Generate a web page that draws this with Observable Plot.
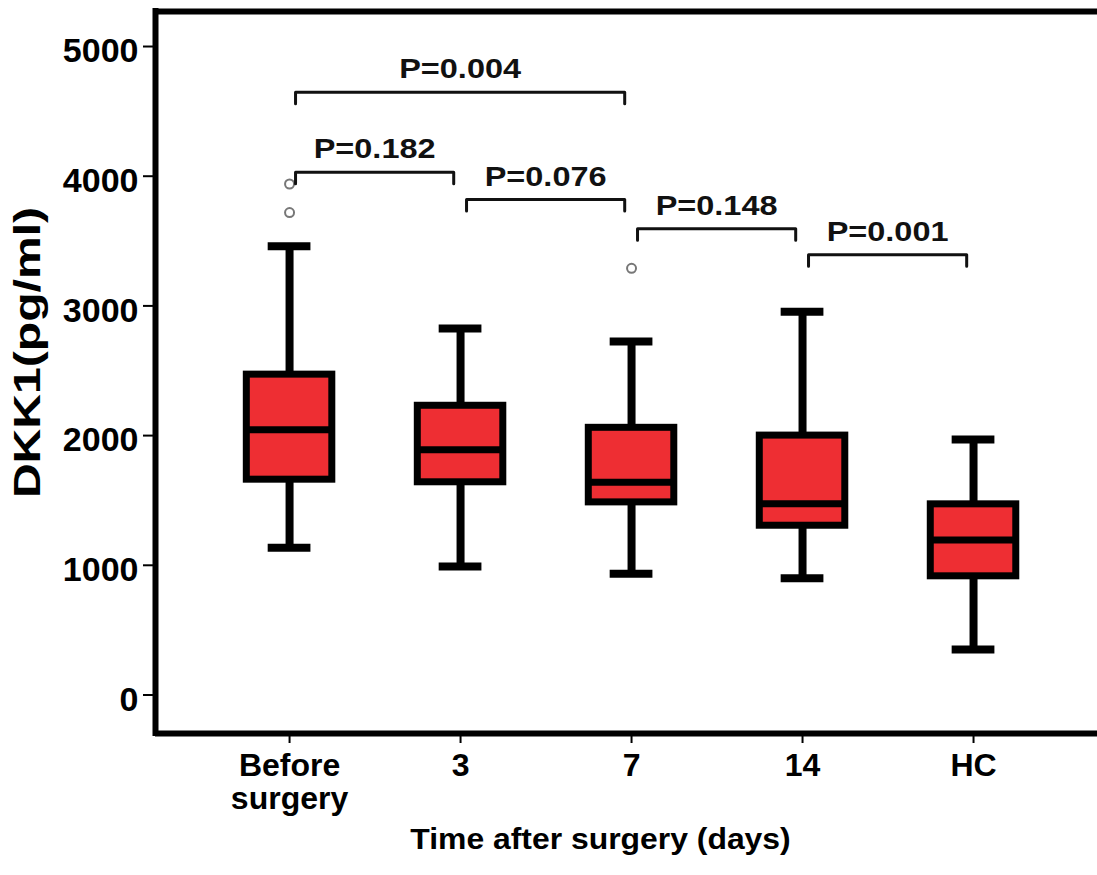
<!DOCTYPE html>
<html>
<head>
<meta charset="utf-8">
<script src="https://cdn.jsdelivr.net/npm/d3@7"></script>
<script src="https://cdn.jsdelivr.net/npm/@observablehq/plot@0.6"></script>
<style>
  html, body { margin: 0; padding: 0; background: white; }
</style>
</head>
<body>
<div id="chart"></div>
<script>
// ---- data ----
const groups = ["Before\nsurgery", "3", "7", "14", "HC"];
const lowWhisker  = [1135,  990,  935,  900,  350];
const q1          = [1660, 1640, 1485, 1305,  915];
const median      = [2045, 1890, 1640, 1475, 1195];
const q3          = [2470, 2230, 2060, 2000, 1470];
const highWhisker = [3460, 2825, 2725, 2955, 1970];

const outlierGroup = [0, 0, 2];
const outlierValue = [3940, 3720, 3290];

const compFrom  = [0, 0, 1, 2, 3];
const compTo    = [2, 1, 2, 3, 4];
const compLabel = ["P=0.004", "P=0.182", "P=0.076", "P=0.148", "P=0.001"];
const compY     = [4648, 4031, 3820, 3595, 3395];

const yTicks = [0, 1000, 2000, 3000, 4000, 5000];
const yTitle = "DKK1(pg/ml)";
const xTitle = "Time after surgery (days)";

// ---- derived tables ----
const boxes = groups.map((g, i) => ({
  i, lo: lowWhisker[i], q1: q1[i], med: median[i], q3: q3[i], hi: highWhisker[i]
}));
const outliers = outlierGroup.map((g, k) => ({i: g, v: outlierValue[k]}));

const yDomain = [-297, 5270];
const pxPerUnit = 722 / (yDomain[1] - yDomain[0]);
const drop = 11.5 / pxPerUnit;         // bracket end tick length
const startInset = 0.035, endInset = 0.04;
const boxHalf = 0.25, capHalf = 0.125;

const bracketPts = [];
const bracketText = [];
compFrom.forEach((a, k) => {
  const b = compTo[k], y = compY[k];
  const xa = a + startInset, xb = b - endInset;
  bracketPts.push({k, x: xa, y: y - drop}, {k, x: xa, y}, {k, x: xb, y}, {k, x: xb, y: y - drop});
  bracketText.push({x: (xa + xb) / 2, y, label: compLabel[k]});
});

const red = "#ee2e33";

const chart = Plot.plot({
  width: 1097,
  height: 875,
  marginLeft: 155,
  marginRight: 0,
  marginTop: 11,
  marginBottom: 142,
  style: {fontFamily: "'Liberation Sans', Arial, Helvetica, sans-serif", background: "white", color: "black"},
  x: {type: "linear", domain: [-0.784, 4.725]},
  y: {domain: yDomain},
  marks: [
    // y axis ticks and labels
    Plot.axisY({ticks: yTicks, tickSize: 12, strokeWidth: 2, tickFormat: () => "", label: null}),
    Plot.axisY({ticks: yTicks, tickSize: 0, tickPadding: 17, dy: 5, fontSize: 34, fontWeight: "bold", tickFormat: d => String(d), label: null}),
    // x axis ticks and labels
    Plot.axisX({ticks: [0, 1, 2, 3, 4], tickSize: 10, strokeWidth: 2, tickPadding: 9,
      tickFormat: i => groups[i], fontSize: 32, fontWeight: "bold", lineHeight: 1.03, label: null}),
    // frame: left, top, bottom
    Plot.ruleY([yDomain[0], yDomain[1]], {stroke: "black", strokeWidth: 6}),
    Plot.ruleX([-0.784], {stroke: "black", strokeWidth: 6, strokeLinecap: "square"}),
    // whiskers
    Plot.ruleX(boxes, {x: "i", y1: "lo", y2: "q1", stroke: "black", strokeWidth: 8}),
    Plot.ruleX(boxes, {x: "i", y1: "q3", y2: "hi", stroke: "black", strokeWidth: 8}),
    // caps
    Plot.ruleY(boxes, {y: "lo", x1: d => d.i - capHalf, x2: d => d.i + capHalf, stroke: "black", strokeWidth: 8}),
    Plot.ruleY(boxes, {y: "hi", x1: d => d.i - capHalf, x2: d => d.i + capHalf, stroke: "black", strokeWidth: 8}),
    // boxes
    Plot.rect(boxes, {x1: d => d.i - boxHalf, x2: d => d.i + boxHalf, y1: "q1", y2: "q3",
      fill: red, stroke: "black", strokeWidth: 7}),
    // medians
    Plot.ruleY(boxes, {y: "med", x1: d => d.i - boxHalf, x2: d => d.i + boxHalf, stroke: "black", strokeWidth: 7}),
    // outliers
    Plot.dot(outliers, {x: "i", y: "v", r: 4.5, stroke: "#777", strokeWidth: 2, fill: "white"}),
    // significance brackets
    Plot.line(bracketPts, {x: "x", y: "y", z: "k", stroke: "#111", strokeWidth: 3, strokeLinejoin: "round", curve: "linear"}),
    Plot.text(bracketText, {x: "x", y: "y", text: "label", dy: -14, lineAnchor: "bottom", textAnchor: "middle",
      fontSize: 28, fontWeight: "bold", fill: "#111"}),
    // axis titles
    Plot.text([yTitle], {frameAnchor: "left", rotate: -90, dx: -116, dy: -20, lineAnchor: "bottom", textAnchor: "middle",
      fontSize: 37, fontWeight: "bold"}),
    Plot.text([xTitle], {frameAnchor: "bottom", dx: -26, dy: 115, lineAnchor: "bottom", textAnchor: "middle",
      fontSize: 29, fontWeight: "bold"})
  ]
});

// stretch the annotation lettering horizontally (along the reading direction), as in the reference
function stretch(t, s) {
  const tr = t.getAttribute("transform");
  if (tr) {
    t.setAttribute("transform", tr + ` scale(${s},1)`);
  } else {
    const x = +(t.getAttribute("x") || 0), y = +(t.getAttribute("y") || 0);
    t.removeAttribute("x"); t.removeAttribute("y");
    t.setAttribute("transform", `translate(${x},${y}) scale(${s},1)`);
  }
}
chart.querySelectorAll("text").forEach(t => {
  const s = t.textContent;
  if (compLabel.includes(s)) stretch(t, 1.16);
  else if (s === yTitle) stretch(t, 1.3);
  else if (s === xTitle) stretch(t, 1.1);
});
document.getElementById("chart").appendChild(chart);
</script>
</body>
</html>
